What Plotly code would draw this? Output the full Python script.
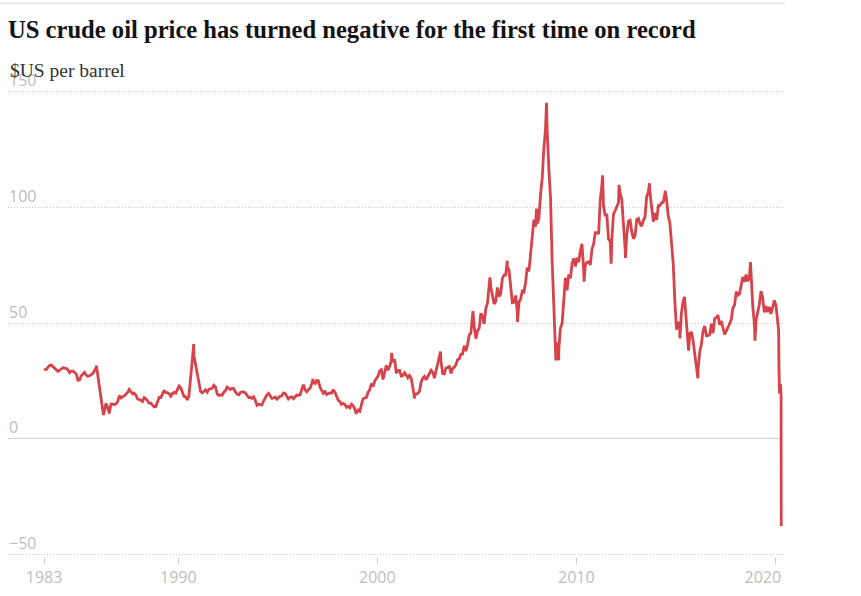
import plotly.graph_objects as go
import pandas as pd

# Monthly average WTI price ($US per barrel), May 1983 - Feb 2020
monthly_start = "1983-05-01"
monthly_prices = [
    30.0, 31.0, 31.7, 31.9, 31.1, 30.4, 29.8, 29.2,                      # 1983 (May-Dec)
    29.7, 30.1, 30.8, 30.6, 30.5, 29.8, 28.7, 29.3, 29.3, 28.8, 28.1, 25.4,  # 1984
    25.6, 27.3, 28.2, 28.8, 27.6, 27.1, 27.3, 27.8, 28.3, 29.5, 30.8, 27.2,  # 1985
    22.9, 15.5, 12.6, 12.8, 15.4, 13.5, 11.6, 15.1, 14.9, 14.9, 15.2, 16.1,  # 1986
    18.7, 17.7, 18.3, 18.6, 19.4, 20.0, 21.4, 20.3, 19.5, 19.8, 18.9, 17.3,  # 1987
    17.1, 16.7, 16.2, 17.9, 17.4, 16.5, 15.5, 15.5, 14.5, 13.8, 14.0, 16.3,  # 1988
    18.0, 17.9, 19.4, 21.0, 20.0, 20.0, 19.6, 18.5, 19.6, 20.1, 19.8, 21.1,  # 1989
    22.9, 22.1, 20.4, 18.4, 18.2, 16.9, 18.6, 27.2, 33.7, 35.9, 32.3, 27.3,  # 1990
    25.2, 20.5, 19.9, 20.8, 21.2, 20.2, 21.4, 21.7, 21.9, 23.2, 22.5, 19.5,  # 1991
    18.8, 19.0, 18.9, 20.2, 20.9, 22.4, 21.8, 21.4, 21.9, 21.7, 20.3, 19.4,  # 1992
    19.1, 20.1, 20.3, 20.3, 19.9, 19.1, 17.9, 18.0, 17.5, 18.2, 16.7, 14.5,  # 1993
    15.0, 14.8, 14.7, 16.4, 17.9, 19.1, 19.7, 18.4, 17.5, 17.7, 18.1, 17.2,  # 1994
    18.0, 18.5, 18.6, 19.9, 19.7, 18.4, 17.3, 18.0, 18.2, 17.4, 18.0, 19.0,  # 1995
    18.9, 19.1, 21.3, 23.5, 21.2, 20.4, 21.3, 21.9, 23.9, 24.9, 23.7, 25.2,  # 1996
    25.1, 22.2, 20.9, 19.7, 20.8, 19.2, 19.6, 19.9, 19.8, 21.3, 20.2, 18.3,  # 1997
    16.7, 16.1, 15.0, 15.4, 14.9, 13.7, 14.1, 13.4, 15.0, 14.4, 12.9, 11.3,  # 1998
    12.5, 12.0, 14.7, 17.3, 17.8, 17.9, 20.1, 21.3, 23.9, 22.6, 25.0, 26.1,  # 1999
    27.2, 29.4, 29.9, 25.7, 28.8, 31.8, 29.7, 31.3, 33.9, 33.1, 34.4, 28.4,  # 2000
    29.6, 29.6, 27.2, 27.4, 28.6, 27.6, 26.4, 27.4, 26.2, 22.2, 19.6, 19.3,  # 2001
    19.7, 20.7, 24.5, 26.2, 27.0, 25.5, 26.9, 28.4, 29.7, 28.9, 26.3, 29.4,  # 2002
    32.9, 35.9, 33.6, 28.3, 28.1, 30.7, 30.8, 31.6, 28.3, 30.3, 31.1, 32.1,  # 2003
    34.3, 34.7, 36.7, 36.7, 40.3, 38.0, 40.7, 44.9, 45.9, 53.1, 48.5, 43.3,  # 2004
    46.8, 48.0, 54.3, 53.0, 49.8, 56.3, 58.7, 65.0, 65.6, 62.4, 58.3, 59.4,  # 2005
    65.5, 61.6, 62.7, 69.4, 70.8, 70.9, 74.4, 73.0, 63.8, 58.9, 59.1, 62.0,  # 2006
    54.5, 59.3, 60.4, 63.9, 63.5, 67.5, 74.1, 72.4, 79.9, 85.8, 94.8, 91.7,  # 2007
    93.0, 95.4, 105.5, 112.6, 125.4, 133.9, 133.4, 116.7, 104.1, 76.6, 57.3, 41.1,  # 2008
    41.7, 39.1, 47.9, 49.7, 59.0, 69.6, 64.2, 71.0, 69.4, 75.7, 78.0, 74.5,  # 2009
    78.3, 76.4, 81.2, 84.3, 73.7, 75.3, 76.3, 76.6, 75.2, 81.9, 84.3, 89.2,  # 2010
    89.2, 88.6, 102.9, 109.5, 100.9, 96.3, 97.3, 86.3, 85.5, 86.3, 97.2, 98.6,  # 2011
    100.3, 102.2, 106.2, 103.3, 94.7, 82.3, 87.9, 94.1, 94.5, 89.5, 86.5, 87.9,  # 2012
    94.8, 95.3, 92.9, 92.0, 94.5, 95.8, 104.6, 106.6, 106.3, 100.5, 93.9, 97.6,  # 2013
    94.6, 100.8, 100.8, 102.1, 102.2, 105.8, 103.6, 96.5, 93.2, 84.4, 75.8, 59.3,  # 2014
    47.2, 50.6, 47.8, 54.5, 59.3, 59.8, 50.9, 42.9, 45.5, 46.2, 42.4, 37.2,  # 2015
    31.7, 30.3, 37.5, 40.8, 46.7, 48.8, 44.7, 44.7, 45.2, 49.8, 45.7, 52.0,  # 2016
    52.5, 53.5, 49.3, 51.1, 48.5, 45.2, 46.6, 48.0, 49.8, 51.6, 56.6, 57.9,  # 2017
    63.7, 62.2, 62.7, 66.3, 70.0, 67.9, 71.0, 68.1, 70.2, 70.8, 57.0, 49.5,  # 2018
    51.4, 55.0, 58.2, 63.9, 60.8, 54.7, 57.4, 54.8, 57.0, 54.0, 57.0, 59.9,  # 2019
    57.5, 50.5,                                                          # 2020 (Jan-Feb)
]

# Daily highs/lows and key days visible on the chart
event_dates = [
    "1983-04-04", "1985-11-20", "1986-03-31", "1986-07-15", "1990-10-11",
    "1996-10-08", "1998-12-10", "2000-09-20", "2001-11-15", "2003-03-07",
    "2004-10-22", "2005-08-30", "2006-07-14", "2007-01-18", "2008-01-02",
    "2008-07-03", "2008-12-22", "2009-02-12", "2010-05-25", "2011-04-29",
    "2011-10-03", "2012-02-24", "2012-06-21", "2013-09-06", "2014-06-20",
    "2015-03-17", "2015-06-10", "2015-08-24", "2016-02-11", "2018-10-03",
    "2018-12-24", "2020-03-02", "2020-03-09", "2020-03-18", "2020-03-31",
    "2020-04-08", "2020-04-17", "2020-04-20",
]
event_prices = [
    30.2, 31.7, 10.4, 11.0, 41.0,
    25.9, 10.8, 37.2, 17.5, 37.8,
    55.2, 69.8, 77.0, 50.5, 99.6,
    145.3, 33.9, 34.0, 68.0, 113.9,
    75.7, 109.8, 78.2, 110.5, 107.3,
    43.5, 61.4, 38.2, 26.2, 76.4,
    42.5, 47.0, 31.1, 20.4, 20.5,
    23.6, 18.3, -37.6,
]

y_ticks = [-50, 0, 50, 100, 150]
x_tick_dates = ["1983-04-04", "1990-01-01", "2000-01-01", "2010-01-01", "2020-01-01"]
x_tick_labels = ["1983", "1990", "2000", "2010", "2020" + "\u00a0" * 6]

monthly_dates = pd.date_range(monthly_start, periods=len(monthly_prices), freq="MS") + pd.Timedelta(days=14)
df = pd.concat([
    pd.DataFrame({"date": monthly_dates, "price": monthly_prices}),
    pd.DataFrame({"date": pd.to_datetime(event_dates), "price": event_prices}),
]).sort_values("date")

W, H = 861, 596
L, R, T, B = 8, 78, 71, 37
plot_h = H - T - B

def py(pix):
    return (H - B - pix) / plot_h

fig = go.Figure()
fig.add_trace(go.Scatter(
    x=df["date"], y=df["price"], mode="lines",
    line=dict(color="#d6434b", width=2.8),
    hoverinfo="skip",
))

fig.update_layout(
    width=W, height=H,
    margin=dict(l=L, r=R, t=T, b=B),
    paper_bgcolor="white", plot_bgcolor="white",
    showlegend=False,
    title=dict(
        text="US crude oil price has turned negative for the first time on record",
        x=L / W, xanchor="left", y=1 - 29 / H, yanchor="middle",
        font=dict(family="Liberation Serif", size=24.6, color="#121212", weight="bold"),
    ),
    xaxis=dict(
        type="date",
        range=["1981-06-11", "2020-05-22"],
        tickvals=x_tick_dates, ticktext=x_tick_labels,
        ticks="outside", ticklen=6, tickcolor="#cccccc", tickwidth=1,
        showgrid=False, zeroline=False, showline=False,
        tickfont=dict(family="Open Sans", size=16, color="#bdbdbd"),
    ),
    yaxis=dict(
        range=[-51, 159],
        tickvals=y_ticks,
        showgrid=True, gridcolor="#c4c4c4", griddash="1px,2px", gridwidth=1,
        zeroline=True, zerolinecolor="#d0d0d0", zerolinewidth=1,
        showline=False, ticks="",
        ticklabelposition="inside top", ticklabeloverflow="allow",
        ticklabelstandoff=-2,
        tickfont=dict(family="Open Sans", size=16, color="#bdbdbd"),
    ),
    annotations=[dict(
        text="$US per barrel", xref="paper", yref="paper",
        x=0, y=py(70), xanchor="left", yanchor="middle", showarrow=False,
        font=dict(family="Liberation Serif", size=19.5, color="#333333"),
    )],
    shapes=[dict(
        type="line", xref="paper", yref="paper",
        x0=-L / (W - L - R), x1=1.003, y0=py(3), y1=py(3),
        line=dict(color="#dcdcdc", width=1),
    )],
)

fig.write_html("out.html", config={"displayModeBar": False},
               post_script="document.body.style.margin='0px';")
